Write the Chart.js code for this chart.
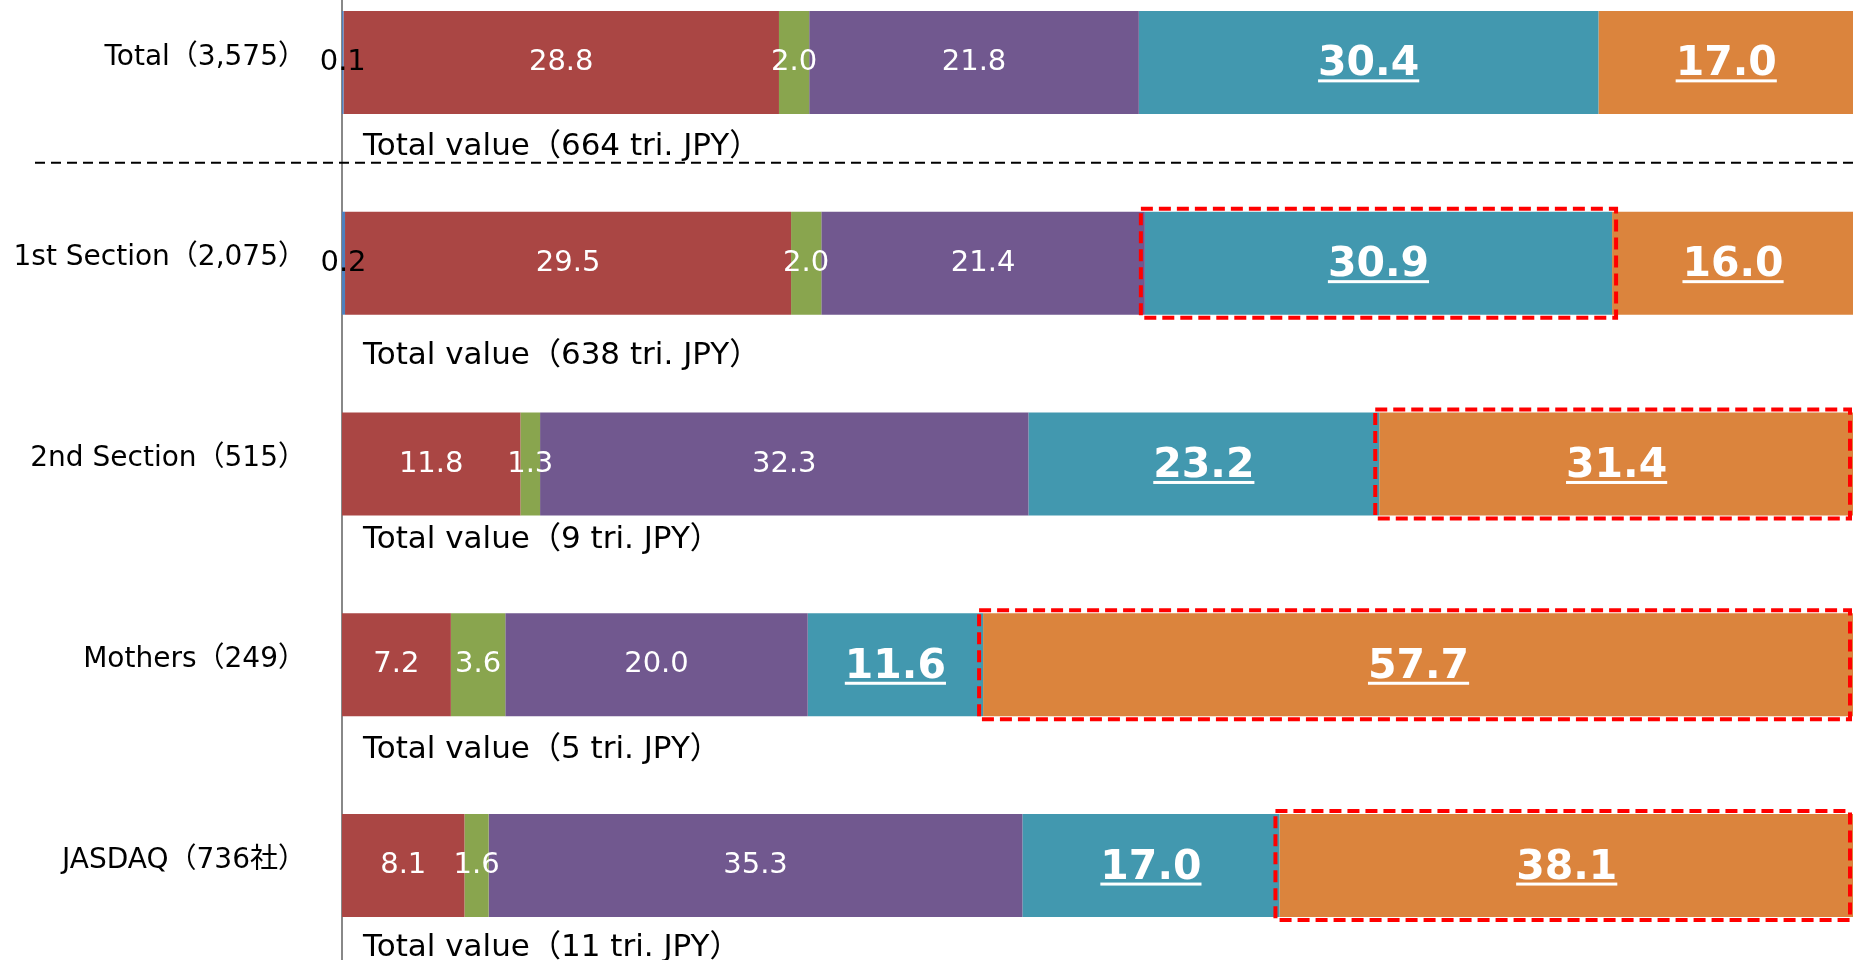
<!DOCTYPE html>
<html lang="ja">
<head>
<meta charset="UTF-8">
<title>Shareholders by type</title>
<script src="https://cdn.jsdelivr.net/npm/chart.js"></script>
<style>
  html, body { margin: 0; padding: 0; background: #fff; overflow: hidden; }
  body { width: 1853px; height: 960px; position: relative; }
  #ownerChart { position: absolute; left: 0; top: -38px; }
</style>
</head>
<body>
<canvas id="ownerChart" width="1854" height="1004"></canvas>

<script>
// market segments (number of companies)
const categories = ['Total（3,575）', '1st Section（2,075）', '2nd Section（515）', 'Mothers（249）', 'JASDAQ（736社）'];
// total market value, trillion JPY
const totalValueTri = [664, 638, 9, 5, 11];

// share of ownership (%)
const govt = [0.1, 0.2, null, null, null];
const finInst = [28.8, 29.5, 11.8, 7.2, 8.1];
const securities = [2.0, 2.0, 1.3, 3.6, 1.6];
const corporations = [21.8, 21.4, 32.3, 20.0, 35.3];
const foreigners = [30.4, 30.9, 23.2, 11.6, 17.0];
const individuals = [17.0, 16.0, 31.4, 57.7, 38.1];

// [category index, dataset index] of the boxed segments
const highlights = [[1, 4], [2, 5], [3, 5], [4, 5]];

const fontFamily = '"DejaVu Sans", "Noto Sans CJK JP", sans-serif';
// gap between bar bottom and its "Total value" note
const noteGap = [30, 38, 21, 31, 28];

const segLabels = {
  id: 'segLabels',
  afterDatasetsDraw(chart) {
    const ctx = chart.ctx;
    const area = chart.chartArea;
    const y = chart.scales.y;
    ctx.save();

    // dashed separator under the Total row
    const sepY = (y.getPixelForValue(0) + y.getPixelForValue(1)) / 2;
    ctx.setLineDash([10, 6]);
    ctx.lineWidth = 2;
    ctx.strokeStyle = '#000';
    ctx.beginPath();
    ctx.moveTo(35, sepY);
    ctx.lineTo(chart.width, sepY);
    ctx.stroke();
    ctx.setLineDash([]);

    // value labels
    chart.data.datasets.forEach((ds, d) => {
      const meta = chart.getDatasetMeta(d);
      meta.data.forEach((bar, i) => {
        const v = ds.data[i];
        if (v == null) return;
        const p = bar.getProps(['x', 'base', 'y'], true);
        const right = Math.min(Math.max(p.x, p.base), area.right);
        const cx = (Math.min(p.x, p.base) + right) / 2;
        const txt = v.toFixed(1);
        const big = d >= 4;
        const size = big ? 41 : 29;
        ctx.font = (big ? 'bold ' : '') + size + 'px ' + fontFamily;
        ctx.textAlign = 'center';
        ctx.textBaseline = 'alphabetic';
        ctx.fillStyle = d === 0 ? '#000' : '#fff';
        const base = p.y + size * 0.365 - (big ? 2 : 3);
        ctx.fillText(txt, cx, base);
        if (big) {
          const w = ctx.measureText(txt).width;
          ctx.fillRect(cx - w / 2, base + 4, w, 3);
        }
      });
    });

    // red dashed boxes
    ctx.strokeStyle = '#ff0000';
    ctx.lineWidth = 4;
    ctx.setLineDash([12, 6]);
    highlights.forEach(([i, d]) => {
      const bar = chart.getDatasetMeta(d).data[i];
      const p = bar.getProps(['x', 'base', 'y', 'height'], true);
      const l = Math.min(p.x, p.base) - 4;
      const r = Math.min(Math.max(p.x, p.base) + 4, chart.width - 4);
      const t = p.y - p.height / 2 - 3;
      const b = p.y + p.height / 2 + 3;
      ctx.strokeRect(l, t, r - l, b - t);
    });
    ctx.setLineDash([]);

    // total value notes
    const bar0 = chart.getDatasetMeta(1).data[0];
    const half = bar0.getProps(['height'], true).height / 2;
    ctx.font = '31px ' + fontFamily;
    ctx.textAlign = 'left';
    ctx.fillStyle = '#000';
    categories.forEach((c, i) => {
      const yb = y.getPixelForValue(i) + half + noteGap[i] + 11;
      ctx.fillText('Total value（' + totalValueTri[i] + ' tri. JPY）', area.left + 21, yb);
    });
    ctx.restore();
  }
};

const mk = (label, data, color) => ({ label, data, backgroundColor: color, borderWidth: 0 });

new Chart(document.getElementById('ownerChart'), {
  type: 'bar',
  data: {
    labels: categories,
    datasets: [
      mk('Govt. & local govt.', govt, '#4f81bd'),
      mk('Financial institutions', finInst, '#aa4644'),
      mk('Securities companies', securities, '#89a54e'),
      mk('Business corporations', corporations, '#71588f'),
      mk('Foreign investors', foreigners, '#4298af'),
      mk('Individuals', individuals, '#db843d')
    ]
  },
  options: {
    indexAxis: 'y',
    responsive: false,
    animation: false,
    layout: { padding: 0 },
    plugins: { legend: { display: false }, tooltip: { enabled: false } },
    datasets: { bar: { categoryPercentage: 1, barPercentage: 0.513 } },
    scales: {
      x: { stacked: true, min: 0, max: 100, display: false },
      y: {
        stacked: true,
        grid: { display: false, drawTicks: false },
        border: { display: true, color: '#888', width: 2 },
        ticks: { color: '#000', padding: 36, labelOffset: -5, font: { family: fontFamily, size: 28 } },
        afterFit(s) {
          s.width = 342;
          s.paddingTop = 0;
          s.paddingBottom = 0;
        }
      }
    }
  },
  plugins: [segLabels]
});
</script>
</body>
</html>
